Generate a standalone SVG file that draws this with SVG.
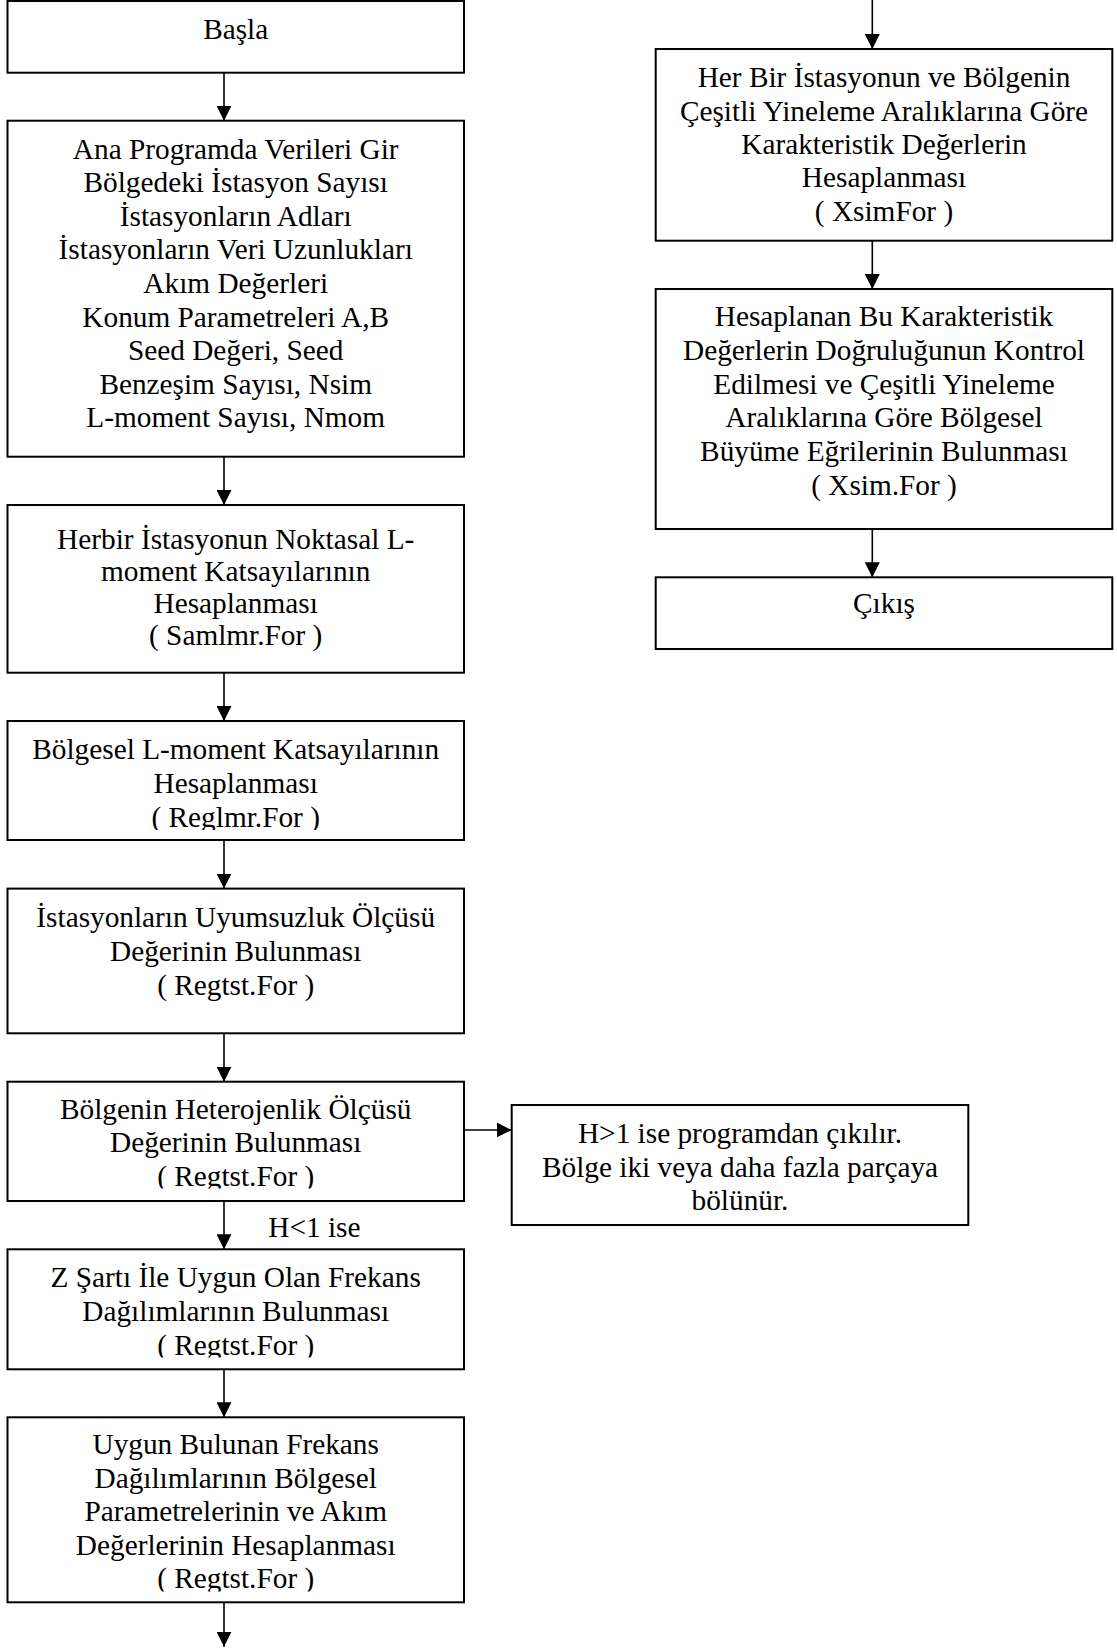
<svg xmlns="http://www.w3.org/2000/svg" width="1117" height="1648" viewBox="0 0 1117 1648">
<style>
.box{fill:#fff;stroke:#000;stroke-width:2}
.t{font-family:"Liberation Serif","Times New Roman",serif;font-size:29.3px;fill:#000;text-anchor:middle}
.lbl{font-family:"Liberation Serif","Times New Roman",serif;font-size:29.3px;fill:#000;text-anchor:start}
.c{stroke:#000;stroke-width:1.6;fill:none;marker-end:url(#ah)}
</style>
<defs>
<marker id="ah" markerUnits="userSpaceOnUse" viewBox="0 0 15 15" refX="15" refY="7.5" markerWidth="15" markerHeight="15" orient="auto"><path d="M0,0 L15,7.5 L0,15 Z" fill="#000"/></marker>
<clipPath id="clip4"><rect x="8" y="722" width="455" height="108"/></clipPath>
<clipPath id="clip6"><rect x="8" y="1083" width="455" height="105.5"/></clipPath>
<clipPath id="clip7"><rect x="8" y="1250" width="455" height="107.5"/></clipPath>
<clipPath id="clip8"><rect x="8" y="1418" width="455" height="173.5"/></clipPath>
</defs>
<rect width="1117" height="1648" fill="#fff"/>

<g id="connectors">
<path class="c" d="M224,72.7 V120.7"/>
<path class="c" d="M224,456.7 V505"/>
<path class="c" d="M224,672.7 V721"/>
<path class="c" d="M224,840 V888.6"/>
<path class="c" d="M224,1033.3 V1081.7"/>
<path class="c" d="M464,1130 H511.7"/>
<path class="c" d="M224,1201 V1249.3"/>
<path class="c" d="M224,1369.3 V1417.3"/>
<path class="c" d="M224,1602.3 V1646.7"/>
<path class="c" d="M872.3,0 V49"/>
<path class="c" d="M872.3,240.7 V289"/>
<path class="c" d="M872.3,529 V577.3"/>
<text class="lbl" x="268.3" y="1237.3">H&lt;1 ise</text>
</g>

<g id="n1">
<rect class="box" x="7.5" y="1" width="456.5" height="71.7"/>
<text class="t" x="235.7" y="39.3">Başla</text>
</g>

<g id="n2">
<rect class="box" x="7.5" y="120.7" width="456.5" height="336"/>
<text class="t" x="235.7" y="158.5">Ana Programda Verileri Gir</text>
<text class="t" x="235.7" y="192.1">Bölgedeki İstasyon Sayısı</text>
<text class="t" x="235.7" y="225.7">İstasyonların Adları</text>
<text class="t" x="235.7" y="259.3">İstasyonların Veri Uzunlukları</text>
<text class="t" x="235.7" y="292.9">Akım Değerleri</text>
<text class="t" x="235.7" y="326.5">Konum Parametreleri A,B</text>
<text class="t" x="235.7" y="360.1">Seed Değeri, Seed</text>
<text class="t" x="235.7" y="393.7">Benzeşim Sayısı, Nsim</text>
<text class="t" x="235.7" y="427.3">L-moment Sayısı, Nmom</text>
</g>

<g id="n3">
<rect class="box" x="7.5" y="505" width="456.5" height="167.7"/>
<text class="t" x="235.7" y="548.5">Herbir İstasyonun Noktasal L-</text>
<text class="t" x="235.7" y="580.7">moment Katsayılarının</text>
<text class="t" x="235.7" y="612.9">Hesaplanması</text>
<text class="t" x="235.7" y="645.1">( Samlmr.For )</text>
</g>

<g id="n4">
<rect class="box" x="7.5" y="721" width="456.5" height="119"/>
<g clip-path="url(#clip4)">
<text class="t" x="235.7" y="759">Bölgesel L-moment Katsayılarının</text>
<text class="t" x="235.7" y="793">Hesaplanması</text>
<text class="t" x="235.7" y="827">( Reglmr.For )</text>
</g>
</g>

<g id="n5">
<rect class="box" x="7.5" y="888.6" width="456.5" height="144.7"/>
<text class="t" x="235.7" y="926.5">İstasyonların Uyumsuzluk Ölçüsü</text>
<text class="t" x="235.7" y="960.5">Değerinin Bulunması</text>
<text class="t" x="235.7" y="994.5">( Regtst.For )</text>
</g>

<g id="n6">
<rect class="box" x="7.5" y="1081.7" width="456.5" height="119.3"/>
<g clip-path="url(#clip6)">
<text class="t" x="235.7" y="1119">Bölgenin Heterojenlik Ölçüsü</text>
<text class="t" x="235.7" y="1152.3">Değerinin Bulunması</text>
<text class="t" x="235.7" y="1185.7">( Regtst.For )</text>
</g>
</g>

<g id="n6b">
<rect class="box" x="511.7" y="1105" width="456.6" height="120"/>
<text class="t" x="740" y="1143.3">H&gt;1 ise programdan çıkılır.</text>
<text class="t" x="740" y="1176.7">Bölge iki veya daha fazla parçaya</text>
<text class="t" x="740" y="1209.7">bölünür.</text>
</g>

<g id="n7">
<rect class="box" x="7.5" y="1249.3" width="456.5" height="120"/>
<g clip-path="url(#clip7)">
<text class="t" x="235.7" y="1286.7">Z Şartı İle Uygun Olan Frekans</text>
<text class="t" x="235.7" y="1320.7">Dağılımlarının Bulunması</text>
<text class="t" x="235.7" y="1355">( Regtst.For )</text>
</g>
</g>

<g id="n8">
<rect class="box" x="7.5" y="1417.3" width="456.5" height="185"/>
<g clip-path="url(#clip8)">
<text class="t" x="235.7" y="1454.3">Uygun Bulunan Frekans</text>
<text class="t" x="235.7" y="1487.8">Dağılımlarının Bölgesel</text>
<text class="t" x="235.7" y="1521.3">Parametrelerinin ve Akım</text>
<text class="t" x="235.7" y="1554.8">Değerlerinin Hesaplanması</text>
<text class="t" x="235.7" y="1588.3">( Regtst.For )</text>
</g>
</g>

<g id="r1">
<rect class="box" x="655.7" y="49" width="456.6" height="191.7"/>
<text class="t" x="884" y="87.3">Her Bir İstasyonun ve Bölgenin</text>
<text class="t" x="884" y="120.7">Çeşitli Yineleme Aralıklarına Göre</text>
<text class="t" x="884" y="154">Karakteristik Değerlerin</text>
<text class="t" x="884" y="187.3">Hesaplanması</text>
<text class="t" x="884" y="220.7">( XsimFor )</text>
</g>

<g id="r2">
<rect class="box" x="655.7" y="289" width="456.6" height="240"/>
<text class="t" x="884" y="326">Hesaplanan Bu Karakteristik</text>
<text class="t" x="884" y="359.8">Değerlerin Doğruluğunun Kontrol</text>
<text class="t" x="884" y="393.6">Edilmesi ve Çeşitli Yineleme</text>
<text class="t" x="884" y="427.4">Aralıklarına Göre Bölgesel</text>
<text class="t" x="884" y="461.2">Büyüme Eğrilerinin Bulunması</text>
<text class="t" x="884" y="495">( Xsim.For )</text>
</g>

<g id="r3">
<rect class="box" x="655.7" y="577.3" width="456.6" height="71.7"/>
<text class="t" x="884" y="613.3">Çıkış</text>
</g>
</svg>
